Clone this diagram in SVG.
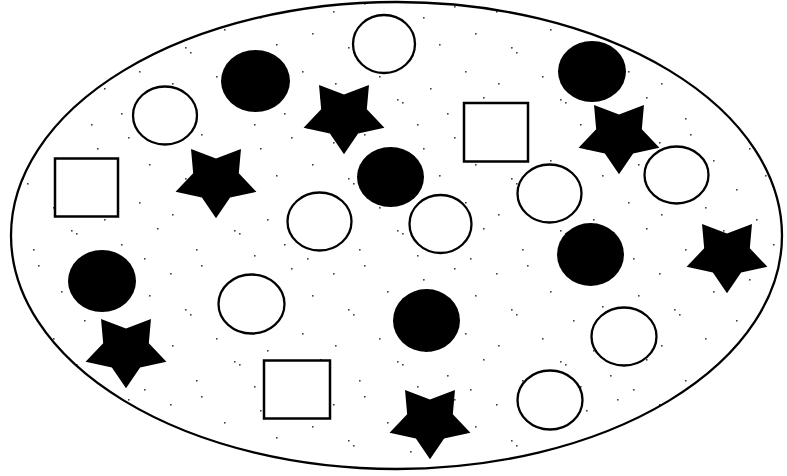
<svg xmlns="http://www.w3.org/2000/svg" xmlns:xlink="http://www.w3.org/1999/xlink" width="787" height="476" viewBox="0 0 787 476">
  <style>
    .open { fill: #ffffff; stroke: #000000; stroke-width: 2.3; }
    .solid { fill: #000000; stroke: none; }
    .sq { fill: #ffffff; stroke: #000000; stroke-width: 2.5; }
    .dot { fill: #444444; }
  </style>
  <defs>
    <pattern id="stipple" patternUnits="userSpaceOnUse" width="163" height="131">
      <rect class="dot" x="7" y="11" width="1.6" height="1.6"/>
      <rect class="dot" x="38" y="3" width="1.6" height="1.6"/>
      <rect class="dot" x="61" y="29" width="1.6" height="1.6"/>
      <rect class="dot" x="97" y="17" width="1.6" height="1.6"/>
      <rect class="dot" x="128" y="6" width="1.6" height="1.6"/>
      <rect class="dot" x="149" y="33" width="1.6" height="1.6"/>
      <rect class="dot" x="22" y="47" width="1.6" height="1.6"/>
      <rect class="dot" x="27" y="52" width="1.6" height="1.6"/>
      <rect class="dot" x="84" y="58" width="1.6" height="1.6"/>
      <rect class="dot" x="113" y="44" width="1.6" height="1.6"/>
      <rect class="dot" x="139" y="71" width="1.6" height="1.6"/>
      <rect class="dot" x="9" y="83" width="1.6" height="1.6"/>
      <rect class="dot" x="53" y="76" width="1.6" height="1.6"/>
      <rect class="dot" x="71" y="99" width="1.6" height="1.6"/>
      <rect class="dot" x="76" y="102" width="1.6" height="1.6"/>
      <rect class="dot" x="104" y="88" width="1.6" height="1.6"/>
      <rect class="dot" x="121" y="113" width="1.6" height="1.6"/>
      <rect class="dot" x="157" y="97" width="1.6" height="1.6"/>
      <rect class="dot" x="33" y="118" width="1.6" height="1.6"/>
      <rect class="dot" x="91" y="124" width="1.6" height="1.6"/>
      <rect class="dot" x="144" y="127" width="1.6" height="1.6"/>
    </pattern>
    <path id="star" d="M24.98,-30.94 L22.83,-6.67 L40.42,11.82 L14.11,17.47 L0,38.25 L-14.11,17.47 L-40.42,11.82 L-22.83,-6.67 L-24.98,-30.94 L0,-21.6 Z"/>
  </defs>

  <g id="field">
    <ellipse cx="396.5" cy="235.5" rx="385.5" ry="233.5" fill="#ffffff"/>
    <ellipse cx="396.5" cy="235.5" rx="385.5" ry="233.5" fill="url(#stipple)"/>
    <ellipse cx="396.5" cy="235.5" rx="385.5" ry="233.5" fill="none" stroke="#000000" stroke-width="2.3"/>
  </g>

  <g id="open-circles">
    <ellipse id="oc1" class="open" cx="384" cy="44" rx="31" ry="29"/>
    <ellipse id="oc2" class="open" cx="165" cy="115.5" rx="32" ry="29"/>
    <ellipse id="oc3" class="open" cx="319.5" cy="221.5" rx="32" ry="29"/>
    <ellipse id="oc4" class="open" cx="440.5" cy="224" rx="31" ry="29"/>
    <ellipse id="oc5" class="open" cx="549.5" cy="193.5" rx="32" ry="29"/>
    <ellipse id="oc6" class="open" cx="676.5" cy="175" rx="32" ry="28.5"/>
    <ellipse id="oc7" class="open" cx="251.5" cy="304" rx="33" ry="29.5"/>
    <ellipse id="oc8" class="open" cx="624" cy="336.5" rx="32.5" ry="29"/>
    <ellipse id="oc9" class="open" cx="550" cy="400" rx="32.5" ry="29.5"/>
  </g>

  <g id="solid-circles">
    <ellipse id="fc1" class="solid" cx="255.5" cy="81" rx="34.5" ry="31"/>
    <ellipse id="fc2" class="solid" cx="592" cy="71.5" rx="34" ry="30.5"/>
    <ellipse id="fc3" class="solid" cx="390.5" cy="177" rx="33.5" ry="30"/>
    <ellipse id="fc4" class="solid" cx="590.5" cy="254.5" rx="33.5" ry="31.5"/>
    <ellipse id="fc5" class="solid" cx="102" cy="281" rx="34" ry="31"/>
    <ellipse id="fc6" class="solid" cx="426.5" cy="320.5" rx="33.5" ry="31.5"/>
  </g>

  <g id="squares">
    <rect id="sq1" class="sq" x="55" y="158.5" width="63" height="58"/>
    <rect id="sq2" class="sq" x="464" y="103" width="64" height="58.5"/>
    <rect id="sq3" class="sq" x="264" y="360.5" width="66" height="58"/>
  </g>

  <g id="stars">
    <use id="st1" href="#star" xlink:href="#star" class="solid" transform="translate(344,116)"/>
    <use id="st2" href="#star" xlink:href="#star" class="solid" transform="translate(216,180)"/>
    <use id="st3" href="#star" xlink:href="#star" class="solid" transform="translate(619,136)"/>
    <use id="st4" href="#star" xlink:href="#star" class="solid" transform="translate(727,255)"/>
    <use id="st5" href="#star" xlink:href="#star" class="solid" transform="translate(126,350)"/>
    <use id="st6" href="#star" xlink:href="#star" class="solid" transform="translate(430,421)"/>
  </g>
</svg>
